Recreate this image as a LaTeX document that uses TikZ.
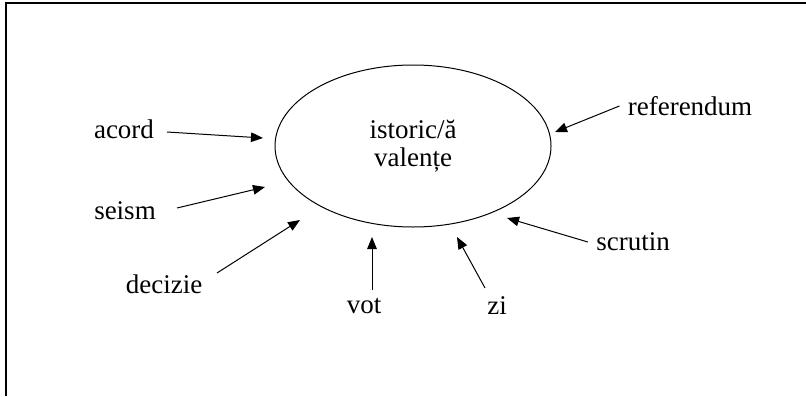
\documentclass[tikz,border=0pt]{standalone}
\usepackage{fontspec}
\setmainfont{Liberation Serif}
\usetikzlibrary{arrows.meta,shapes.geometric}

\tikzset{
	word/.style={inner sep=4pt,font=\fontsize{13.5}{14}\selectfont},
	pointer/.style={line width=.5pt,-{Triangle[length=6pt,width=4.8pt]}}
}

\begin{document}
\begin{tikzpicture}[x=0.5pt,y=-0.5pt]
		\useasboundingbox (0,0) rectangle (806,396);
		\draw[line width=1pt](806,3) -- (6,3) -- (6,396);
		\node[draw,ellipse,line width=.5pt,minimum width=138pt,minimum height=81pt,align=center,font=\fontsize{13.5}{14}\selectfont](val) at (413,146) {istoric/ă\\valențe};
		\node[word](acord) at (124,129) {acord};
		\node[word](seism) at (125,211) {seism};
		\node[word](decizie) at (164,284) {decizie};
		\node[word](vot) at (364,306) {vot};
		\node[word](zi) at (497,306) {zi};
		\node[word](referendum) at (690,106) {referendum};
		\node[word](scrutin) at (633,242) {scrutin};
		\coordinate (tacord) at (263,138);
		\coordinate (tseism) at (265,187);
		\coordinate (tdecizie) at (300,220);
		\coordinate (tvot) at (372,237);
		\coordinate (tzi) at (457,237);
		\coordinate (treferendum) at (555,132);
		\coordinate (tscrutin) at (507,218);
		\draw[pointer](167,132) -- (tacord);
		\draw[pointer](177,208) -- (tseism);
		\draw[pointer](217,273) -- (tdecizie);
		\draw[pointer](tvot |- vot.north) -- (tvot);
		\draw[pointer](485,288) -- (tzi);
		\draw[pointer](referendum.west) -- (treferendum);
		\draw[pointer](scrutin.west) -- (tscrutin);
\end{tikzpicture}
\end{document}
